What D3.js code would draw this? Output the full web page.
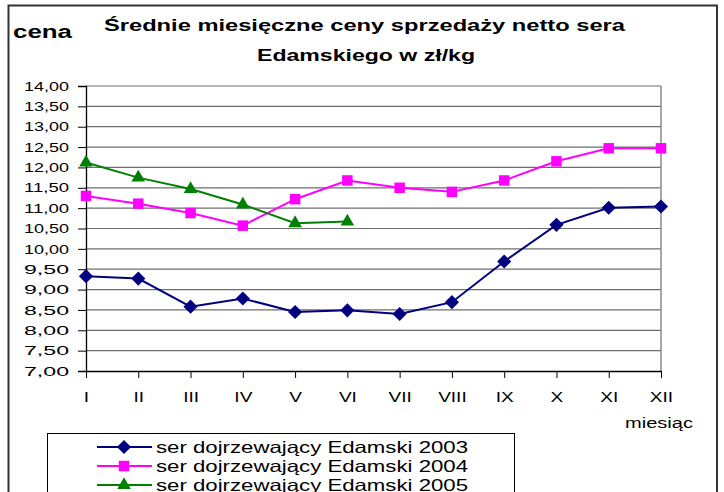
<!DOCTYPE html>
<html>
<head>
<meta charset="utf-8">
<script src="https://cdn.jsdelivr.net/npm/d3@7"></script>
<style>
  body { margin: 0; background: #fff; }
  text { font-family: "Liberation Sans", Arial, sans-serif; fill: #000; }
</style>
</head>
<body>
<script>
// dane
const months = ['I', 'II', 'III', 'IV', 'V', 'VI', 'VII', 'VIII', 'IX', 'X', 'XI', 'XII'];
const yTicks = [7, 7.5, 8, 8.5, 9, 9.5, 10, 10.5, 11, 11.5, 12, 12.5, 13, 13.5, 14];
const ser2003 = [9.33, 9.27, 8.58, 8.78, 8.45, 8.49, 8.40, 8.69, 9.69, 10.59, 11.01, 11.04];
const ser2004 = [11.30, 11.11, 10.88, 10.57, 11.22, 11.68, 11.50, 11.40, 11.68, 12.15, 12.47, 12.47];
const ser2005 = [12.12, 11.75, 11.47, 11.09, 10.63, 10.67];
const seriesNames = ['ser dojrzewający Edamski 2003', 'ser dojrzewający Edamski 2004', 'ser dojrzewający Edamski 2005'];

const width  = 724;
const height = 492;
const plot   = {left: 86, right: 661, top: 86, bottom: 371};
const stretch = 1.36; // tekst w oryginale jest rozciagniety w poziomie

const series = [
  {name: seriesNames[0], values: ser2003, color: '#000080', symbol: 'diamond'},
  {name: seriesNames[1], values: ser2004, color: '#ff00ff', symbol: 'square'},
  {name: seriesNames[2], values: ser2005, color: '#008000', symbol: 'triangle'}
];

const svg = d3.select('body').append('svg')
    .attr('width', width)
    .attr('height', height);

const x = d3.scalePoint().domain(months).range([plot.left, plot.right]);
const y = d3.scaleLinear().domain([7, 14]).range([plot.bottom, plot.top]);

// rozciaga tekst o zadany wspolczynnik albo do zadanej szerokosci
const widen = (sel, w) => {
  sel.each(function() {
    const len = w || this.getComputedTextLength() * stretch;
    d3.select(this).attr('textLength', len).attr('lengthAdjust', 'spacingAndGlyphs');
  });
};

const markerPath = type => {
  if (type === 'diamond') return d3.symbol().type(d3.symbolSquare).size(100)();
  if (type === 'square') return d3.symbol().type(d3.symbolSquare).size(110)();
  return d3.symbol().type(d3.symbolTriangle).size(80)();
};

// ramka zewnetrzna
svg.append('rect')
    .attr('x', 8.5).attr('y', 5.5)
    .attr('width', 708.5).attr('height', 500)
    .attr('fill', 'none')
    .attr('stroke', '#333')
    .attr('stroke-width', 2);

// tytul
svg.append('text')
    .attr('x', 104).attr('y', 31)
    .style('font-size', '17px').style('font-weight', 'bold')
    .text('Średnie miesięczne ceny sprzedaży netto sera')
    .call(widen, 521);

svg.append('text')
    .attr('x', 257).attr('y', 61)
    .style('font-size', '17px').style('font-weight', 'bold')
    .text('Edamskiego w zł/kg')
    .call(widen, 218);

svg.append('text')
    .attr('x', 13).attr('y', 38)
    .style('font-size', '18px').style('font-weight', 'bold')
    .text('cena')
    .call(widen, 59);

// siatka
svg.append('g')
    .selectAll('line')
    .data(yTicks.filter(d => d > 7))
    .enter().append('line')
    .attr('x1', plot.left).attr('x2', plot.right)
    .attr('y1', d => y(d)).attr('y2', d => y(d))
    .attr('stroke', '#6e6e6e')
    .attr('stroke-width', 1.2);

svg.append('line')
    .attr('x1', plot.right).attr('x2', plot.right)
    .attr('y1', plot.top).attr('y2', plot.bottom)
    .attr('stroke', '#8a8a8a')
    .attr('stroke-width', 1.5);

// osie
const yAxis = d3.axisLeft(y)
    .tickValues(yTicks)
    .tickSize(8)
    .tickPadding(8)
    .tickFormat(d => d3.format('.2f')(d).replace('.', ','));

const gy = svg.append('g')
    .attr('transform', 'translate(' + plot.left + ',0)')
    .call(yAxis);
gy.select('.domain').attr('stroke', '#000').attr('stroke-width', 1.3);
gy.selectAll('.tick line').attr('stroke', '#000');
gy.selectAll('.tick text')
    .style('font-size', '13px')
    .attr('fill', '#000')
    .call(widen, 45);
gy.selectAll('.tick text').attr('x', -17);

const xAxis = d3.axisBottom(x)
    .tickSize(7)
    .tickSizeOuter(0)
    .tickPadding(14);

const gx = svg.append('g')
    .attr('transform', 'translate(0,' + plot.bottom + ')')
    .call(xAxis);
gx.select('.domain').attr('stroke', '#000').attr('stroke-width', 1.3);
gx.selectAll('.tick line').attr('stroke', '#000');
gx.selectAll('.tick text')
    .style('font-size', '14px')
    .attr('fill', '#000')
    .call(widen);

svg.append('text')
    .attr('x', 625).attr('y', 428)
    .style('font-size', '14px')
    .text('miesiąc')
    .call(widen, 68);

// serie
const line = d3.line()
    .x((d, i) => x(months[i]))
    .y(d => y(d));

series.forEach(s => {
  svg.append('path')
      .datum(s.values)
      .attr('d', line)
      .attr('fill', 'none')
      .attr('stroke', s.color)
      .attr('stroke-width', 2);

  svg.append('g')
      .selectAll('path')
      .data(s.values)
      .enter().append('path')
      .attr('d', markerPath(s.symbol))
      .attr('transform', (d, i) => 'translate(' + x(months[i]) + ',' + y(d) + ')' +
        (s.symbol === 'diamond' ? ' rotate(45)' : ''))
      .attr('fill', s.color);
});

// legenda
const legend = svg.append('g');
legend.append('rect')
    .attr('x', 47.5).attr('y', 433.5)
    .attr('width', 467).attr('height', 80)
    .attr('fill', '#fff')
    .attr('stroke', '#000')
    .attr('stroke-width', 1);

const item = legend.selectAll('.item')
    .data(series)
    .enter().append('g')
    .attr('class', 'item')
    .attr('transform', (d, i) => 'translate(0,' + (447 + i * 19) + ')');

item.append('line')
    .attr('x1', 97).attr('x2', 152)
    .attr('stroke', d => d.color)
    .attr('stroke-width', 2);

item.append('path')
    .attr('d', d => markerPath(d.symbol))
    .attr('transform', d => 'translate(124,0)' + (d.symbol === 'diamond' ? ' rotate(45)' : ''))
    .attr('fill', d => d.color);

item.append('text')
    .attr('x', 156).attr('y', 6)
    .style('font-size', '16.5px')
    .text(d => d.name)
    .call(widen, 312);
</script>
</body>
</html>
